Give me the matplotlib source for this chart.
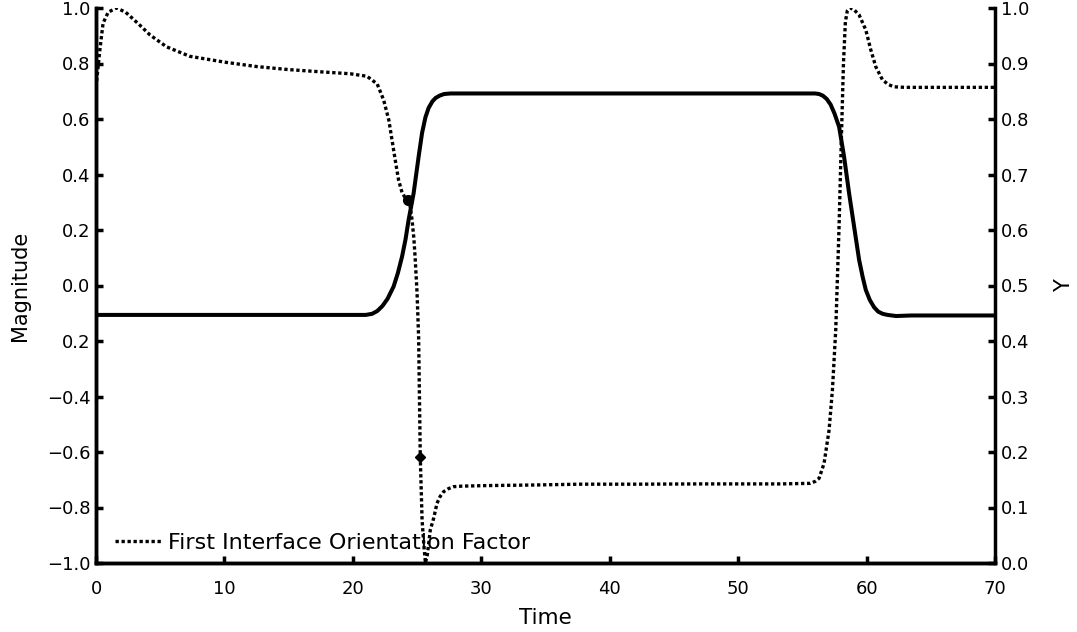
import matplotlib
matplotlib.use("Agg")
import matplotlib.pyplot as plt
from matplotlib.ticker import FixedLocator, FixedFormatter

# dotted curve, left axis (Magnitude)
time_factor = [0, 0.3, 0.55, 0.95, 1.6, 2.3, 2.9, 3.6, 4.2, 5.5, 7.3, 10, 12.5, 15, 17.5,
               19.8, 21.1, 21.9, 22.4, 22.8, 23.05, 23.3, 23.56, 23.83, 24.05, 24.26,
               24.45, 24.61, 24.75, 24.86, 25.0, 25.12, 25.25, 25.39, 25.52, 25.65, 25.8,
               26.03, 26.29, 26.55, 26.8, 27.07, 27.45, 27.85, 28.5, 30.45, 34, 37.7, 42,
               47, 53.3, 55.6, 56.0, 56.3, 56.69, 57.08, 57.34, 57.6, 57.85, 58.05, 58.2,
               58.35, 58.5, 58.7, 59.0, 59.42, 59.94, 60.33, 60.72, 61.24, 61.7, 62.14,
               63, 64.26, 67, 70]
orientation_factor = [0.715, 0.849, 0.945, 0.985, 1.0, 0.985, 0.96, 0.93, 0.903, 0.86,
                      0.826, 0.805, 0.789, 0.778, 0.77, 0.763, 0.754, 0.726, 0.668, 0.596,
                      0.524, 0.452, 0.38, 0.335, 0.318, 0.308, 0.29, 0.236, 0.17, 0.092,
                      -0.028, -0.185, -0.619, -0.845, -0.93, -1.0, -0.97, -0.881, -0.839,
                      -0.785, -0.76, -0.743, -0.732, -0.725, -0.723, -0.721, -0.719, -0.716,
                      -0.716, -0.715, -0.715, -0.713, -0.706, -0.695, -0.641, -0.521,
                      -0.377, -0.16, 0.2, 0.55, 0.8, 0.95, 0.99, 1.0, 0.995, 0.975, 0.921,
                      0.849, 0.788, 0.741, 0.724, 0.716, 0.714, 0.714, 0.714, 0.714]

# solid curve, right axis (Y)
time_y = [0, 10, 20, 21.0, 21.5, 21.9, 22.3, 22.7, 23.17, 23.5, 23.83, 24.1, 24.34, 24.73,
          25.12, 25.39, 25.65, 25.9, 26.2, 26.45, 26.75, 27.1, 27.6, 35, 45, 55, 56.0,
          56.3, 56.6, 56.9, 57.2, 57.5, 57.86, 58.25, 58.64, 59.03, 59.42, 59.7, 59.94,
          60.25, 60.58, 60.9, 61.25, 61.63, 62.3, 63.5, 70]
y_values = [0.447, 0.447, 0.447, 0.447, 0.449, 0.454, 0.463, 0.476, 0.498, 0.522, 0.552,
            0.583, 0.618, 0.666, 0.732, 0.775, 0.803, 0.82, 0.832, 0.838, 0.842, 0.845,
            0.846, 0.846, 0.846, 0.846, 0.846, 0.845, 0.842, 0.836, 0.826, 0.81, 0.786,
            0.732, 0.666, 0.606, 0.546, 0.515, 0.492, 0.474, 0.461, 0.453, 0.449, 0.447,
            0.445, 0.446, 0.446]

# marked points on the dotted curve
circle_pt = (24.26, 0.308)
diamond_pt = (25.25, -0.619)

left_ticks = [-1.0, -0.8, -0.6, -0.4, -0.2, 0.0, 0.2, 0.4, 0.6, 0.8, 1.0]
left_labels = ["\u22121.0", "\u22120.8", "\u22120.6", "\u22120.4", "0.2", "0.0",
               "0.2", "0.4", "0.6", "0.8", "1.0"]
right_ticks = [0.0, 0.1, 0.2, 0.3, 0.4, 0.5, 0.6, 0.7, 0.8, 0.9, 1.0]
x_ticks = [0, 10, 20, 30, 40, 50, 60, 70]

plt.rcParams["font.family"] = "DejaVu Sans"
fs = 13

fig = plt.figure(figsize=(10.77, 6.32), dpi=100)
ax = fig.add_axes([96 / 1077, 1 - 563 / 632, 899 / 1077, 555 / 632])
ax2 = ax.twinx()

ax.plot(time_factor, orientation_factor, color="black", lw=2.4,
        dashes=(1, 0.8), label="First Interface Orientation Factor")
ax.plot(*circle_pt, marker="o", ms=7, color="black")
ax.plot(*diamond_pt, marker="D", ms=5, color="black")
ax2.plot(time_y, y_values, color="black", lw=2.9, solid_capstyle="round",
         solid_joinstyle="round")

ax.set_xlim(0, 70)
ax.set_ylim(-1.0, 1.0)
ax2.set_ylim(0.0, 1.0)

ax.xaxis.set_major_locator(FixedLocator(x_ticks))
ax.yaxis.set_major_locator(FixedLocator(left_ticks))
ax.yaxis.set_major_formatter(FixedFormatter(left_labels))
ax2.yaxis.set_major_locator(FixedLocator(right_ticks))

for a in (ax, ax2):
    a.spines["top"].set_visible(False)
    for s in ("left", "right", "bottom"):
        a.spines[s].set_linewidth(2.5)

ax.spines["right"].set_visible(False)
ax.tick_params(axis="y", direction="in", length=5, width=2.5, labelsize=fs, pad=4,
               left=True, right=False)
ax.tick_params(axis="x", direction="in", length=5, width=2.5, labelsize=fs, pad=12.5,
               top=False)
ax2.tick_params(axis="y", direction="in", length=5, width=2.5, labelsize=fs, pad=4,
                left=False, right=True)

ax.set_xlabel("Time", fontsize=15.5, labelpad=7)
ax.set_ylabel("Magnitude", fontsize=15, labelpad=12)
ax2.set_ylabel("Y", fontsize=15, rotation=90, labelpad=18)

leg = ax.legend(loc="center left", bbox_to_anchor=(19 / 899, 0.036), frameon=False,
                fontsize=16, handlelength=2.1, handletextpad=0.27, borderpad=0,
                borderaxespad=0)
leg.set_zorder(1)

plt.savefig("out.png", dpi=100)
